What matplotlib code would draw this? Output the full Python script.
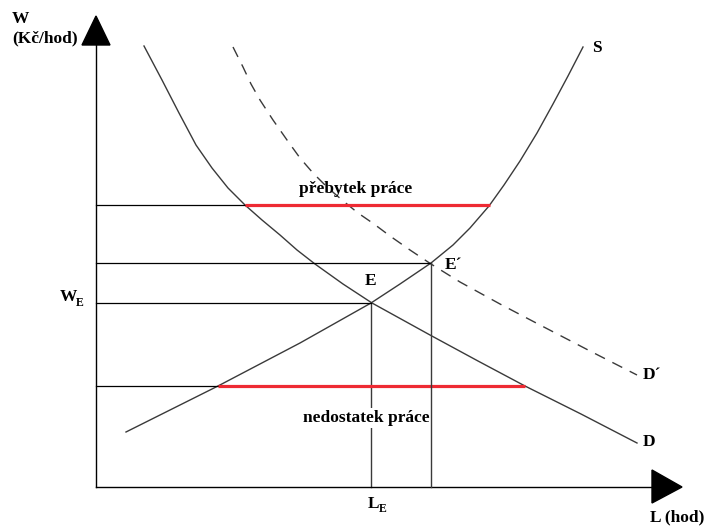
import numpy as np
import matplotlib
matplotlib.use('Agg')
import matplotlib.pyplot as plt
from matplotlib.patches import Polygon

plt.rcParams['font.family'] = ['Liberation Serif', 'DejaVu Serif']

# Curves (L = labour in hours, W = wage), arbitrary units
s_L = [30, 74, 122, 204, 275, 304, 335, 357, 374, 393, 408, 424, 441, 457, 472, 487]
s_W = [55, 77, 101, 144, 184, 203, 224, 242, 259, 281, 302, 326, 354, 383, 411, 440]

d_L = [48, 66, 83, 100, 116, 132, 149, 166, 184, 201, 219, 247, 276, 305, 334, 382, 429, 485, 541]
d_W = [441, 407, 374, 342, 319, 299, 282, 267, 252, 237, 223, 203, 184, 168, 152, 126, 101, 73, 44]

d2_L = [137, 147, 155, 164, 177, 191, 204, 217, 231, 246, 262, 278, 294, 314, 335, 364, 404, 444, 494, 541]
d2_W = [440, 420, 403, 387, 367, 347, 329, 314, 300, 287, 274, 263, 251, 237, 223, 205, 183, 162, 136, 112]

# equilibria and the two wage levels with surplus / shortage
E = (275, 184)
E2 = (335, 224)
surplus_W, surplus_L = 282, (149, 394)
shortage_W, shortage_L = 101, (122, 429)

line_col = '#3a3a3a'
red = '#ee2a33'
fs = 12.5
bold = dict(fontweight='bold', color='black', fontsize=fs)
sub = dict(fontweight='bold', color='black', fontsize=8.5)

fig = plt.figure(figsize=(7.04, 5.26), dpi=100)
ax = fig.add_axes([0, 0, 1, 1])
ax.set_xlim(-96, 608)
ax.set_ylim(-39, 487)
ax.axis('off')

# axes with arrow heads
ax.plot([0, 0], [0, 442], color='black', lw=1.0)
ax.plot([0, 556], [0, 0], color='black', lw=1.0)
ax.add_patch(Polygon([[-14, 442], [14, 442], [0, 471]], closed=True, color='black'))
ax.add_patch(Polygon([[556, 17], [556, -16], [586, 0]], closed=True, color='black'))

# curves
ax.plot(s_L, s_W, color=line_col, lw=1.0)
ax.plot(d_L, d_W, color=line_col, lw=1.0)
ax.plot(d2_L, d2_W, color=line_col, lw=1.0, dashes=(8, 6))

# guide lines to the axes
ax.plot([0, surplus_L[0]], [surplus_W, surplus_W], color='black', lw=0.9)
ax.plot([0, E2[0]], [E2[1], E2[1]], color='black', lw=0.9)
ax.plot([0, E[0]], [E[1], E[1]], color='black', lw=0.9)
ax.plot([0, shortage_L[0]], [shortage_W, shortage_W], color='black', lw=0.9)
ax.plot([E[0], E[0]], [0, E[1]], color=line_col, lw=1.0, zorder=1)
ax.plot([E2[0], E2[0]], [0, E2[1]], color=line_col, lw=1.0, zorder=4)

# surplus / shortage
ax.plot(surplus_L, [surplus_W, surplus_W], color=red, lw=2.3, solid_capstyle='butt')
ax.plot(shortage_L, [shortage_W, shortage_W], color=red, lw=2.3, solid_capstyle='butt')

# labels
ax.text(-84, 468, 'W', ha='left', va='center', **bold)
ax.text(-84, 449, '(Kč/hod)', ha='left', va='center', **bold)
ax.text(501, 439, 'S', ha='center', va='center', **bold)
ax.text(260, 298, 'přebytek práce', ha='center', va='center', **bold)
ax.text(349, 222, 'E´', ha='left', va='center', **bold)
ax.text(275, 206, 'E', ha='center', va='center', **bold)
ax.text(-36, 190, 'W', ha='left', va='center', **bold)
ax.text(-20, 184, 'E', ha='left', va='center', **sub)
ax.text(547, 112, 'D´', ha='left', va='center', **bold)
ax.text(270, 69, 'nedostatek práce', ha='center', va='center', zorder=2,
        bbox=dict(facecolor='white', edgecolor='none', pad=1.5), **bold)
ax.text(547, 45, 'D', ha='left', va='center', **bold)
ax.text(272, -17, 'L', ha='left', va='center', **bold)
ax.text(283, -22, 'E', ha='left', va='center', **sub)
ax.text(554, -30, 'L (hod)', ha='left', va='center', **bold)

fig.savefig('out.png', dpi=100)
